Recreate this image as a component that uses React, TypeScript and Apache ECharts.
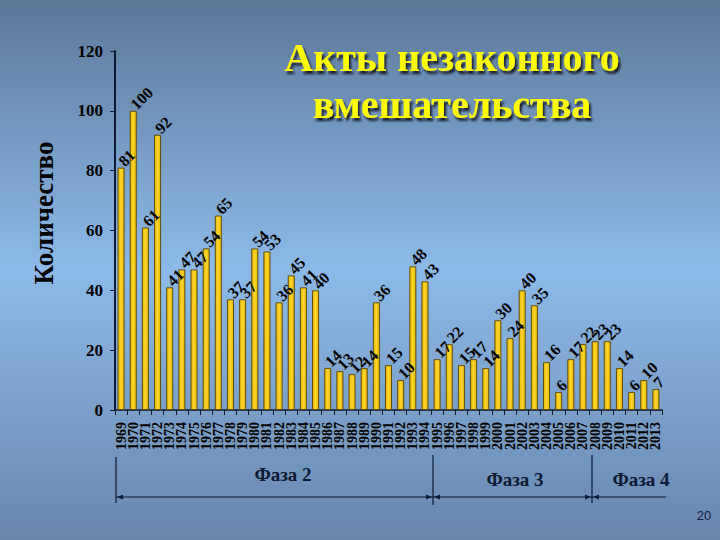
import React, { useEffect, useRef } from "react";
import * as echarts from "echarts";

const years: string[] = [
  "1969", "1970", "1971", "1972", "1973", "1974", "1975", "1976", "1977", "1978",
  "1979", "1980", "1981", "1982", "1983", "1984", "1985", "1986", "1987", "1988",
  "1989", "1990", "1991", "1992", "1993", "1994", "1995", "1996", "1997", "1998",
  "1999", "2000", "2001", "2002", "2003", "2004", "2005", "2006", "2007", "2008",
  "2009", "2010", "2011", "2012", "2013",
];
const counts: number[] = [
  81, 100, 61, 92, 41, 47, 47, 54, 65, 37,
  37, 54, 53, 36, 45, 41, 40, 14, 13, 12,
  14, 36, 15, 10, 48, 43, 17, 22, 15, 17,
  14, 30, 24, 40, 35, 16, 6, 17, 22, 23,
  23, 14, 6, 10, 7,
];
const titleLines: string[] = ["Акты незаконного", "вмешательства"];
const yAxisTitle = "Количество";
const phaseLabels: string[] = ["Фаза 2", "Фаза 3", "Фаза 4"];
const slideNumber = "20";

const SERIF = "'Liberation Serif', 'Times New Roman', 'DejaVu Serif', serif";
const DARK = "#0b1a33";

export default function App() {
  const ref = useRef<HTMLDivElement>(null);
  useEffect(() => {
    if (!ref.current) return;
    const chart = echarts.init(ref.current, undefined, { renderer: "svg" });

    const arrow = (tipX: number, y: number, dir: number) => ({
      type: "polygon",
      shape: { points: [[tipX, y], [tipX + dir * 6, y - 2.5], [tipX + dir * 6, y + 2.5]] },
      style: { fill: DARK },
    });

    chart.setOption({
      animation: false,
      backgroundColor: {
        type: "linear", x: 0, y: 0, x2: 0, y2: 1,
        colorStops: [
          { offset: 0, color: "#5b7999" },
          { offset: 0.5, color: "#8dbae8" },
          { offset: 1, color: "#6887ab" },
        ],
      },
      grid: { left: 115, right: 58, top: 51, bottom: 130 },
      xAxis: {
        type: "category",
        data: years,
        axisLine: { lineStyle: { color: DARK, width: 1.5 } },
        axisTick: { show: true, length: 5, lineStyle: { color: DARK } },
        axisLabel: {
          interval: 0,
          rotate: 90,
          fontFamily: SERIF,
          fontWeight: "bold",
          fontSize: 14,
          color: "#000",
          margin: 12,
        },
      },
      yAxis: {
        type: "value",
        min: 0,
        max: 120,
        interval: 20,
        axisLine: { show: true, lineStyle: { color: DARK, width: 2 } },
        axisTick: { show: true, length: 5, lineStyle: { color: DARK } },
        splitLine: { show: false },
        axisLabel: {
          fontFamily: SERIF,
          fontWeight: "bold",
          fontSize: 17,
          color: "#000",
          margin: 12,
        },
      },
      series: [
        {
          type: "bar",
          data: counts,
          barWidth: "58%",
          itemStyle: {
            color: {
              type: "linear", x: 0, y: 0, x2: 1, y2: 0,
              colorStops: [
                { offset: 0, color: "#e8b800" },
                { offset: 0.5, color: "#ffd52e" },
                { offset: 1, color: "#e8b800" },
              ],
            },
            borderColor: "#5e4d12",
            borderWidth: 1,
          },
          label: {
            show: true,
            position: "top",
            distance: 4,
            rotate: 45,
            align: "left",
            verticalAlign: "middle",
            fontFamily: SERIF,
            fontWeight: "bold",
            fontSize: 16,
            color: "#000",
          },
        },
      ],
      graphic: [
        {
          type: "text",
          x: 452,
          y: 81,
          style: {
            text: titleLines.join("\n"),
            align: "center",
            verticalAlign: "middle",
            fontFamily: SERIF,
            fontWeight: "bold",
            fontSize: 40,
            lineHeight: 47,
            fill: "#ffff00",
            textShadowColor: "rgba(10,10,20,0.9)",
            textShadowOffsetX: 2,
            textShadowOffsetY: 3,
            textShadowBlur: 2,
          },
        },
        {
          type: "text",
          x: 44,
          y: 213,
          rotation: Math.PI / 2,
          style: {
            text: yAxisTitle,
            align: "center",
            verticalAlign: "middle",
            fontFamily: SERIF,
            fontWeight: "bold",
            fontSize: 27,
            fill: "#000",
          },
        },
        { type: "line", shape: { x1: 116, y1: 497, x2: 666, y2: 497 }, style: { stroke: DARK, lineWidth: 1.2 } },
        { type: "line", shape: { x1: 116, y1: 457, x2: 116, y2: 503 }, style: { stroke: DARK, lineWidth: 1.2 } },
        { type: "line", shape: { x1: 433, y1: 455, x2: 433, y2: 505 }, style: { stroke: DARK, lineWidth: 1.2 } },
        { type: "line", shape: { x1: 592, y1: 455, x2: 592, y2: 503 }, style: { stroke: DARK, lineWidth: 1.2 } },
        arrow(117, 497, 1),
        arrow(432, 497, -1),
        arrow(434, 497, 1),
        arrow(591, 497, -1),
        arrow(593, 497, 1),
        {
          type: "text",
          style: {
            text: phaseLabels[0], x: 283, y: 474, align: "center", verticalAlign: "middle",
            fontFamily: SERIF, fontWeight: "bold", fontSize: 19, fill: DARK,
          },
        },
        {
          type: "text",
          style: {
            text: phaseLabels[1], x: 515, y: 479, align: "center", verticalAlign: "middle",
            fontFamily: SERIF, fontWeight: "bold", fontSize: 19, fill: DARK,
          },
        },
        {
          type: "text",
          style: {
            text: phaseLabels[2], x: 641, y: 479, align: "center", verticalAlign: "middle",
            fontFamily: SERIF, fontWeight: "bold", fontSize: 19, fill: DARK,
          },
        },
        {
          type: "text",
          style: {
            text: slideNumber, x: 704, y: 515, align: "center", verticalAlign: "middle",
            fontFamily: "'Liberation Sans', Arial, sans-serif", fontSize: 13, fill: "#10203a",
          },
        },
      ],
    });
    return () => chart.dispose();
  }, []);
  return (
    <div
      ref={ref}
      style={{ position: "fixed", left: 0, top: 0, width: 720, height: 540 }}
    />
  );
}
